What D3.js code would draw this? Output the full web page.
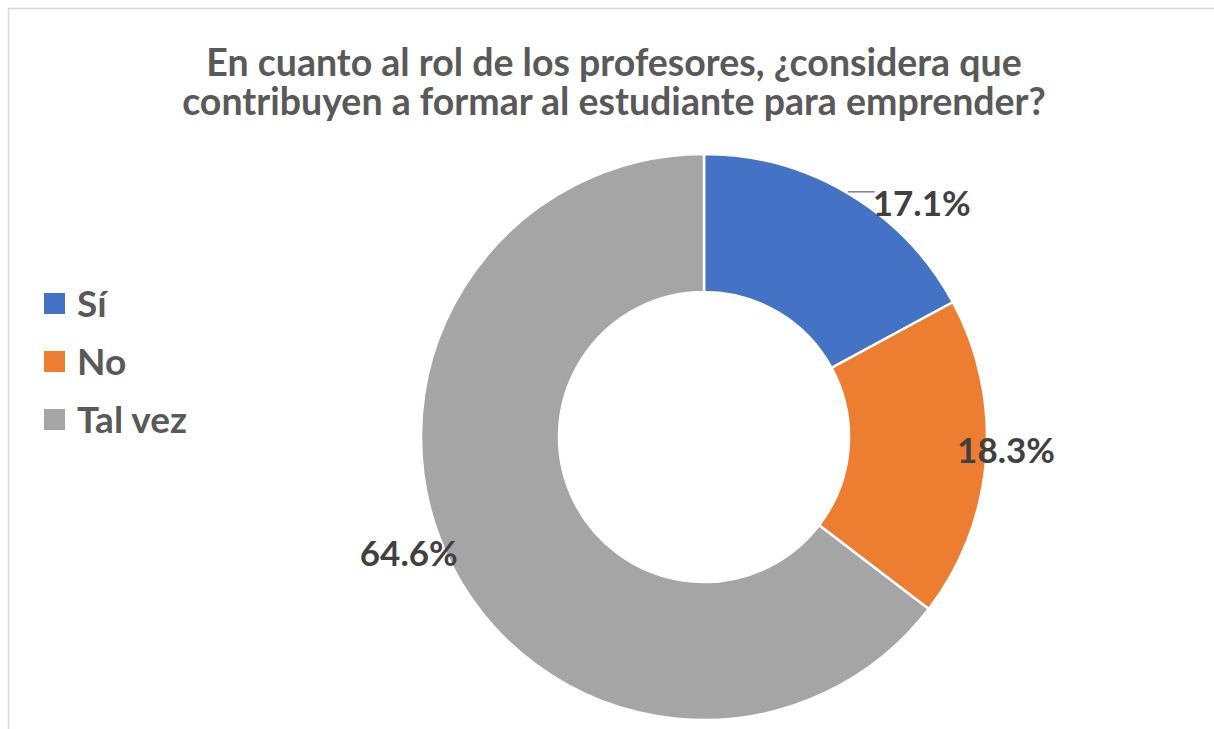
<!DOCTYPE html>
<html>
<head>
<meta charset="utf-8">
<script src="https://cdn.jsdelivr.net/npm/d3@7"></script>
<style>
  html, body { margin: 0; padding: 0; background: #fff; }
  svg { display: block; font-family: Lato, "Open Sans", sans-serif; }
</style>
</head>
<body>
<div id="chart"></div>
<script>
// data
var categories = ["Sí", "No", "Tal vez"];
var values = [17.1, 18.3, 64.6];
var colors = ["#4472C4", "#ED7D31", "#A5A5A5"];
var titleLines = ["En cuanto al rol de los profesores, ¿considera que",
                  "contribuyen a formar al estudiante para emprender?"];

var width = 1214, height = 729;
var cx = 704, cy = 437, outerR = 283, innerR = 145;

var svg = d3.select("#chart").append("svg")
    .attr("width", width)
    .attr("height", height);

// chart frame (runs off the right/bottom edges like the screenshot)
svg.append("rect")
    .attr("x", 8.5).attr("y", 8.5)
    .attr("width", width + 20).attr("height", height + 20)
    .attr("fill", "#fff")
    .attr("stroke", "#d9d9d9")
    .attr("stroke-width", 1.5);

// title, one text block with a tspan per line
svg.append("text")
    .attr("y", 76)
    .attr("text-anchor", "middle")
    .attr("font-size", 37.5)
    .attr("font-weight", "bold")
    .attr("fill", "#595959")
  .selectAll("tspan")
    .data(titleLines)
  .enter().append("tspan")
    .attr("x", 614)
    .attr("dy", function(d, i) { return i === 0 ? 0 : 38.5; })
    .text(function(d) { return d; });

var pie = d3.pie().sort(null).value(function(d) { return d; });
var arcs = pie(values);

var arc = d3.arc().innerRadius(innerR).outerRadius(outerR);

var g = svg.append("g").attr("transform", "translate(" + cx + "," + cy + ")");

g.selectAll("path")
    .data(arcs)
  .enter().append("path")
    .attr("d", arc)
    .attr("fill", function(d, i) { return colors[i]; })
    .attr("stroke", "#fff")
    .attr("stroke-width", 2.5);

// data labels, placed outside the ring like Excel's best fit
var labelR = [318, 303, 317];
var labelShift = [[55, 40], [0, -10], [-11, -24]];   // first label pushed down/right off the title
var fmt = function(v) { return v.toFixed(1) + "%"; };

function labelPos(d, i) {
  var a = (d.startAngle + d.endAngle) / 2;
  return [Math.sin(a) * labelR[i] + labelShift[i][0],
          -Math.cos(a) * labelR[i] + labelShift[i][1]];
}

var labels = g.selectAll("text.lbl")
    .data(arcs)
  .enter().append("text")
    .attr("class", "lbl")
    .attr("x", function(d, i) { return labelPos(d, i)[0]; })
    .attr("y", function(d, i) { return labelPos(d, i)[1]; })
    .attr("dy", "0.36em")
    .attr("text-anchor", "middle")
    .attr("font-size", 35)
    .attr("font-weight", "bold")
    .attr("fill", "#404040")
    .text(function(d) { return fmt(d.data); });

// leader line for the shifted label
var a0 = (arcs[0].startAngle + arcs[0].endAngle) / 2;
var p0 = [Math.sin(a0) * outerR, -Math.cos(a0) * outerR];
var box0 = labels.nodes()[0].getBBox();
g.append("line")
    .attr("x1", p0[0] - 1).attr("y1", p0[1] - 2)
    .attr("x2", box0.x + 2).attr("y2", p0[1] - 2)
    .attr("stroke", "#404040")
    .attr("stroke-width", 1);

// legend
var legend = svg.append("g").attr("transform", "translate(44,293)");
var item = legend.selectAll("g")
    .data(categories)
  .enter().append("g")
    .attr("transform", function(d, i) { return "translate(0," + i * 58 + ")"; });

item.append("rect")
    .attr("width", 21).attr("height", 21)
    .attr("fill", function(d, i) { return colors[i]; });

item.append("text")
    .attr("x", 33)
    .attr("y", 10.5)
    .attr("dy", "0.36em")
    .attr("font-size", 37)
    .attr("font-weight", "bold")
    .attr("fill", "#595959")
    .text(function(d) { return d; });
</script>
</body>
</html>
